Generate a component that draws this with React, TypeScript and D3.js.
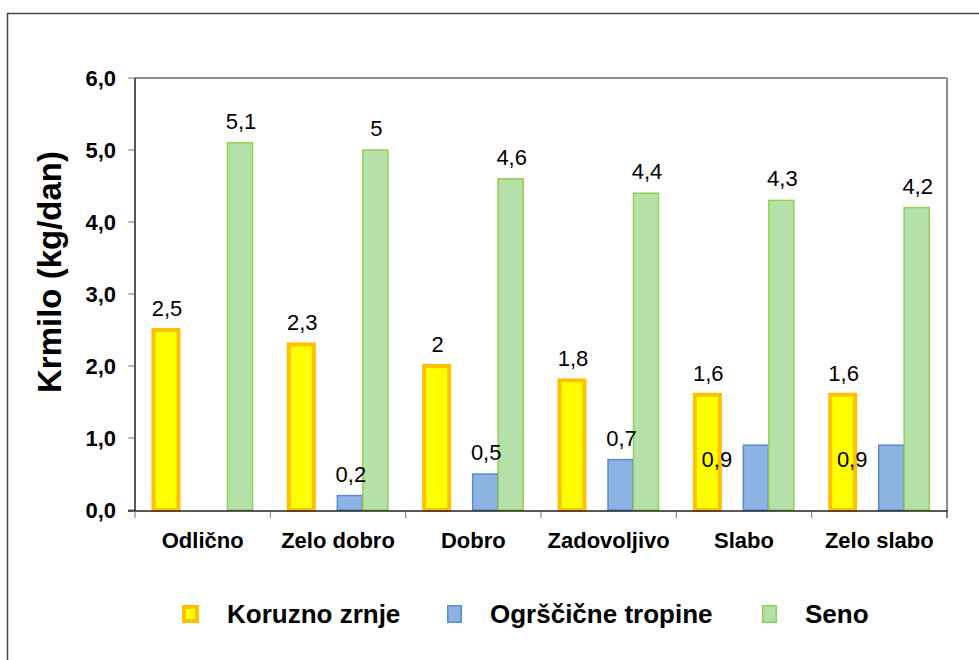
import React from "react";
import * as d3 from "d3";

const categories = ["Odlično", "Zelo dobro", "Dobro", "Zadovoljivo", "Slabo", "Zelo slabo"];
const koruzno = [2.5, 2.3, 2.0, 1.8, 1.6, 1.6];
const ogrscicne = [0, 0.2, 0.5, 0.7, 0.9, 0.9];
const seno = [5.1, 5.0, 4.6, 4.4, 4.3, 4.2];
const koruznoLabels = ["2,5", "2,3", "2", "1,8", "1,6", "1,6"];
const ogrscicneLabels = ["", "0,2", "0,5", "0,7", "0,9", "0,9"];
const senoLabels = ["5,1", "5", "4,6", "4,4", "4,3", "4,2"];
const yTicks = [0, 1, 2, 3, 4, 5, 6];
const seriesNames = ["Koruzno zrnje", "Ogrščične tropine", "Seno"];

export default function App() {
  const W = 979, H = 660;
  const left = 135, right = 947, top = 78, bottom = 510;
  const x = d3.scaleBand<string>().domain(categories).range([left, right]);
  const y = d3.scaleLinear().domain([0, 6]).range([bottom, top]);
  const bw = x.bandwidth();
  const font = "Arial, 'Liberation Sans', Helvetica, sans-serif";
  const fmt = (v: number) => v.toFixed(1).replace(".", ",");

  const series = [
    { vals: koruzno, labels: koruznoLabels, off: 0.229, w: 25, fill: "#ffff00", stroke: "#ffc000", sw: 4 },
    { vals: ogrscicne, labels: ogrscicneLabels, off: 0.5875, w: 25, fill: "#8db3e2", stroke: "#5a8ad2", sw: 1.5 },
    { vals: seno, labels: senoLabels, off: 0.776, w: 25, fill: "#b6e0a9", stroke: "#92d050", sw: 1.5 },
  ];

  // label nudge for the blue labels that Excel moved over the yellow bars
  const nudge = (si: number, lbl: string) =>
    si === 1 && lbl === "0,9" ? { dx: -39, dy: 36 } : { dx: 1, dy: 0 };

  const legendItems = [
    { name: seriesNames[0], mx: 182, mw: 17, tx: 227, fill: "#ffff00", stroke: "#ffc000", sw: 4 },
    { name: seriesNames[1], mx: 447, mw: 15, tx: 490, fill: "#8db3e2", stroke: "#5a8ad2", sw: 1.5 },
    { name: seriesNames[2], mx: 762, mw: 15, tx: 805, fill: "#b6e0a9", stroke: "#92d050", sw: 1.5 },
  ];

  return (
    <svg width={W} height={H} style={{ position: "absolute", left: 0, top: 0 }} fontFamily={font}>
      <rect x={0} y={0} width={W} height={H} fill="#fff" />
      <rect x={7.5} y={13.5} width={W + 20} height={H + 20} fill="none" stroke="#444" strokeWidth={1.5} />
      {/* plot area border */}
      <line x1={left} x2={right} y1={top} y2={top} stroke="#8c8c8c" strokeWidth={2} />
      <line x1={right} x2={right} y1={top} y2={bottom + 8} stroke="#8c8c8c" strokeWidth={2} />
      {/* y ticks */}
      {yTicks.map((t) => (
        <g key={t}>
          <line x1={left - 7} x2={left} y1={y(t)} y2={y(t)} stroke="#777" strokeWidth={1} />
          <text x={116} y={y(t) + 8} textAnchor="end" fontSize={22} fontWeight="bold" fill="#000">
            {fmt(t)}
          </text>
        </g>
      ))}
      {/* bars */}
      {series.map((s, si) =>
        categories.map((c, i) => {
          const v = s.vals[i];
          if (v <= 0) return null;
          const cx = (x(c) as number) + s.off * bw;
          return (
            <rect key={si + "-" + c} x={cx - s.w / 2} y={y(v)} width={s.w} height={bottom - y(v)}
              fill={s.fill} stroke={s.stroke} strokeWidth={s.sw} />
          );
        })
      )}
      {/* axes lines */}
      <line x1={left} x2={left} y1={top} y2={bottom + 1} stroke="#222" strokeWidth={1.5} />
      <line x1={left - 7} x2={right + 1} y1={bottom + 1} y2={bottom + 1} stroke="#222" strokeWidth={1.5} />
      {categories.concat(["end"]).map((c, i) => (
        <line key={"xt" + i} x1={left + i * bw} x2={left + i * bw} y1={bottom + 1} y2={bottom + 8} stroke="#777" strokeWidth={1} />
      ))}
      {/* data labels */}
      {series.map((s, si) =>
        categories.map((c, i) => {
          const v = s.vals[i];
          const lbl = s.labels[i];
          if (!lbl) return null;
          const cx = (x(c) as number) + s.off * bw;
          const n = nudge(si, lbl);
          return (
            <text key={"l" + si + c} x={cx + n.dx} y={y(v) - 14 + n.dy} textAnchor="middle" fontSize={22} fill="#000">
              {lbl}
            </text>
          );
        })
      )}
      {/* category labels */}
      {categories.map((c) => (
        <text key={"c" + c} x={(x(c) as number) + bw / 2} y={548} textAnchor="middle" fontSize={22} fontWeight="bold" fill="#000">
          {c}
        </text>
      ))}
      {/* axis title */}
      <text transform="translate(61,272) rotate(-90)" textAnchor="middle" fontSize={33} fontWeight="bold" fill="#000">
        Krmilo (kg/dan)
      </text>
      {/* legend */}
      {legendItems.map((l, i) => (
        <g key={"lg" + i}>
          <rect x={l.mx + l.sw / 2} y={605 + l.sw / 2} width={l.mw - l.sw} height={18 - l.sw}
            fill={l.fill} stroke={l.stroke} strokeWidth={l.sw} />
          <text x={l.tx} y={623} fontSize={26} fontWeight="bold" fill="#000">
            {l.name}
          </text>
        </g>
      ))}
    </svg>
  );
}
